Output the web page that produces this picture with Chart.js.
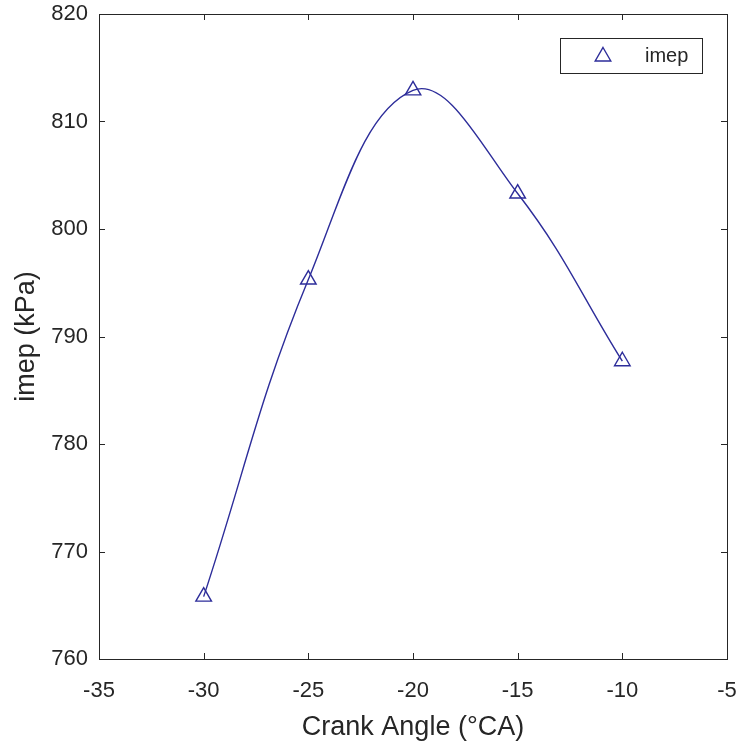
<!DOCTYPE html>
<html>
<head>
<meta charset="utf-8">
<script src="https://cdn.jsdelivr.net/npm/chart.js@4/dist/chart.umd.min.js"></script>
<style>
  html, body { margin: 0; padding: 0; background: #fff; }
  #wrap { width: 740px; height: 744px; position: relative; }
</style>
</head>
<body>
<div id="wrap"><canvas id="c" width="740" height="744"></canvas></div>
<script>
const crankAngles = [-30, -25, -20, -15, -10];
const imepValues = [765.8, 795.3, 812.9, 803.3, 787.7];
const xTicks = [-35, -30, -25, -20, -15, -10, -5];
const yTicks = [760, 770, 780, 790, 800, 810, 820];
const seriesLabel = 'imep';
const xTitle = 'Crank Angle (°CA)';
const yTitle = 'imep (kPa)';

const lineColor = '#2d2d9a';
const textColor = '#262626';
const FONT = "'Liberation Sans', Arial, sans-serif";

const boxPlugin = {
  id: 'boxPlugin',
  afterDraw(chart) {
    const ctx = chart.ctx;
    const a = chart.chartArea;
    const xs = chart.scales.x, ys = chart.scales.y;
    ctx.save();
    ctx.strokeStyle = textColor;
    ctx.lineWidth = 1;
    ctx.strokeRect(Math.round(a.left) + 0.5, Math.round(a.top) + 0.5,
                   Math.round(a.right - a.left), Math.round(a.bottom - a.top));
    const tl = 6;
    ctx.beginPath();
    xTicks.forEach(v => {
      const px = Math.round(xs.getPixelForValue(v)) + 0.5;
      ctx.moveTo(px, a.bottom); ctx.lineTo(px, a.bottom - tl);
      ctx.moveTo(px, a.top); ctx.lineTo(px, a.top + tl);
    });
    yTicks.forEach(v => {
      const py = Math.round(ys.getPixelForValue(v)) + 0.5;
      ctx.moveTo(a.left, py); ctx.lineTo(a.left + tl, py);
      ctx.moveTo(a.right, py); ctx.lineTo(a.right - tl, py);
    });
    ctx.stroke();

    // legend box
    const lw = 142, lh = 35;
    const lx = Math.round(a.right - 25 - lw), ly = Math.round(a.top + 24);
    ctx.fillStyle = '#fff';
    ctx.fillRect(lx, ly, lw, lh);
    ctx.strokeStyle = textColor;
    ctx.strokeRect(lx + 0.5, ly + 0.5, lw, lh);
    const ds = chart.data.datasets[0];
    ctx.strokeStyle = lineColor;
    ctx.lineWidth = 1.4;
    ctx.fillStyle = 'rgba(255,255,255,0)';
    Chart.helpers.drawPoint(ctx, {pointStyle: 'triangle', radius: 9, rotation: 0, borderWidth: 1.4}, lx + 43, ly + lh / 2 + 1);
    ctx.fillStyle = textColor;
    ctx.font = '20px ' + FONT;
    ctx.textBaseline = 'middle';
    ctx.textAlign = 'left';
    ctx.fillText(ds.label, lx + 85, ly + lh / 2 + 1);
    ctx.restore();
  }
};

new Chart(document.getElementById('c'), {
  type: 'line',
  data: {
    datasets: [{
      label: seriesLabel,
      data: crankAngles.map((x, i) => ({ x, y: imepValues[i] })),
      borderColor: lineColor,
      backgroundColor: 'rgba(255,255,255,0)',
      borderWidth: 1.4,
      tension: 0.4,
      pointStyle: 'triangle',
      pointRadius: 9,
      pointBorderWidth: 1.4,
      pointBorderColor: lineColor,
      pointBackgroundColor: 'rgba(255,255,255,0)',
      fill: false
    }]
  },
  options: {
    responsive: false,
    animation: false,
    layout: { padding: { top: 14, right: 13, left: 0, bottom: 0 } },
    plugins: { legend: { display: false }, tooltip: { enabled: false } },
    scales: {
      x: {
        type: 'linear', min: -35, max: -5,
        afterBuildTicks(s) { s.ticks = xTicks.map(v => ({ value: v })); },
        afterFit(s) { s.height = 85; s.paddingLeft = 0; s.paddingRight = 0; },
        grid: { display: false, drawTicks: false },
        border: { display: false },
        ticks: { padding: 19, color: textColor, font: { family: FONT, size: 22 }, maxRotation: 0 },
        title: { display: true, text: xTitle, color: textColor, font: { family: FONT, size: 27 }, padding: { top: 2, bottom: 0 } }
      },
      y: {
        type: 'linear', min: 760, max: 820,
        afterBuildTicks(s) { s.ticks = yTicks.map(v => ({ value: v })); },
        afterFit(s) { s.width = 99; s.paddingTop = 0; s.paddingBottom = 0; },
        grid: { display: false, drawTicks: false },
        border: { display: false },
        ticks: { padding: 11, color: textColor, font: { family: FONT, size: 22 } },
        title: { display: true, text: yTitle, color: textColor, font: { family: FONT, size: 27 }, padding: { top: 10, bottom: 0 } }
      }
    }
  },
  plugins: [boxPlugin]
});
</script>
</body>
</html>
